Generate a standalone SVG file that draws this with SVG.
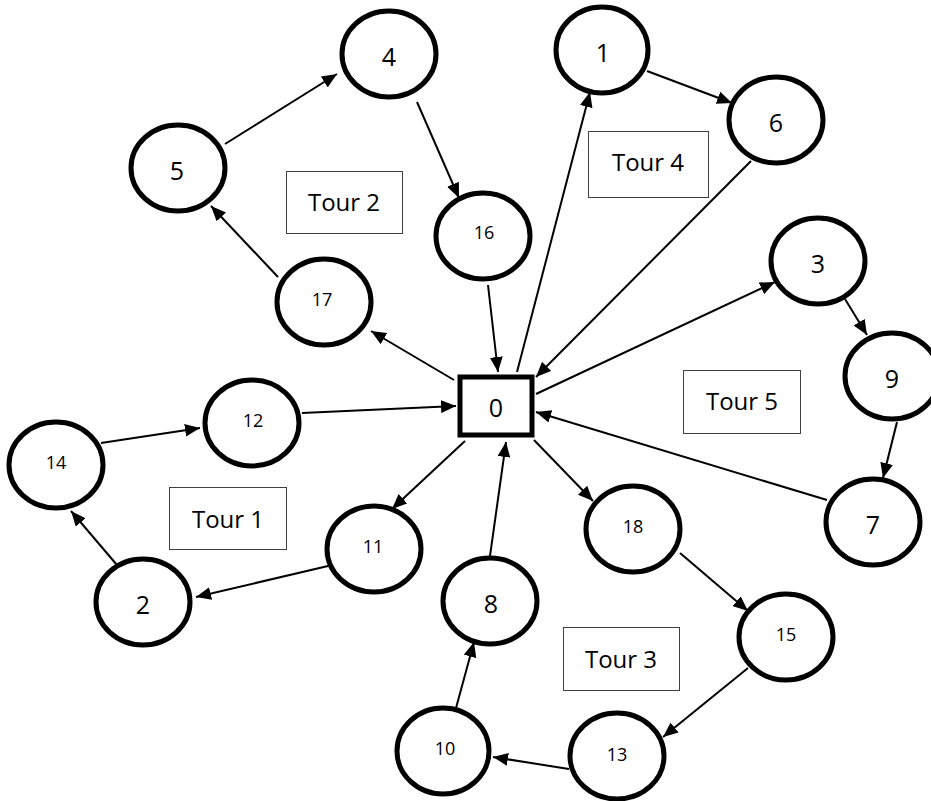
<svg xmlns="http://www.w3.org/2000/svg" width="931" height="801" viewBox="0 0 931 801">
<style>
.n ellipse{fill:#fff;stroke:#000;stroke-width:5}
.n text{font-family:"Open Sans","Liberation Sans",sans-serif;fill:#000;text-anchor:middle;dominant-baseline:central}
.big{font-size:25px}
.sm{font-size:18px}
.tour rect{fill:#fff;stroke:#404040;stroke-width:1}
.tour text{font-family:"Open Sans","Liberation Sans",sans-serif;font-size:24px;fill:#000;text-anchor:middle;dominant-baseline:central}
#edges line{stroke:#000;stroke-width:2;marker-end:url(#ah)}
</style>
<defs>
<marker id="ah" viewBox="0 0 7 6" markerWidth="7.5" markerHeight="6.5" refX="7" refY="3" orient="auto" markerUnits="strokeWidth">
<path d="M0,0 L7,3 L0,6 z" fill="#000"/>
</marker>
</defs>
<rect width="931" height="801" fill="#fff"/>
<g id="edges">
<line x1="465" y1="441" x2="392" y2="509"/>
<line x1="328" y1="566" x2="196" y2="597"/>
<line x1="117" y1="565" x2="71" y2="511"/>
<line x1="101" y1="443" x2="200" y2="428"/>
<line x1="302" y1="413" x2="456" y2="406"/>
<line x1="454" y1="380" x2="371" y2="331"/>
<line x1="278" y1="277" x2="211" y2="206"/>
<line x1="225" y1="144" x2="337" y2="74"/>
<line x1="417" y1="102" x2="459" y2="198"/>
<line x1="488" y1="285" x2="498" y2="372"/>
<line x1="534" y1="440" x2="593" y2="501"/>
<line x1="680" y1="553" x2="748" y2="611"/>
<line x1="748" y1="668" x2="663" y2="737"/>
<line x1="569" y1="769" x2="493" y2="757"/>
<line x1="456" y1="708" x2="474" y2="642"/>
<line x1="490" y1="556" x2="506" y2="442"/>
<line x1="517" y1="372" x2="590" y2="92"/>
<line x1="647" y1="71" x2="732" y2="103"/>
<line x1="751" y1="161" x2="536" y2="377"/>
<line x1="536" y1="394" x2="775" y2="282"/>
<line x1="845" y1="299" x2="867" y2="335"/>
<line x1="897" y1="422" x2="883" y2="478"/>
<line x1="827" y1="500" x2="536" y2="412"/>
</g>
<g id="tour1" class="tour"><rect x="169.5" y="487.5" width="117" height="62"/><text x="228" y="518">Tour 1</text></g>
<g id="tour2" class="tour"><rect x="286.5" y="171.5" width="116" height="62"/><text x="344" y="201">Tour 2</text></g>
<g id="tour3" class="tour"><rect x="563.5" y="627.5" width="116" height="63"/><text x="621" y="658">Tour 3</text></g>
<g id="tour4" class="tour"><rect x="588.5" y="131.5" width="120" height="66"/><text x="648" y="161">Tour 4</text></g>
<g id="tour5" class="tour"><rect x="683.5" y="370.5" width="117" height="63"/><text x="742" y="400">Tour 5</text></g>
<g id="node0" class="n"><rect x="460" y="377" width="72" height="58" fill="#fff" stroke="#000" stroke-width="5"/><text class="big" x="496" y="407">0</text></g>
<g id="node1" class="n"><ellipse cx="602" cy="50" rx="46" ry="43"/><text class="big" x="603" y="52">1</text></g>
<g id="node2" class="n"><ellipse cx="143" cy="602" rx="47" ry="43"/><text class="big" x="143" y="604">2</text></g>
<g id="node3" class="n"><ellipse cx="818" cy="261" rx="47" ry="43"/><text class="big" x="818" y="263">3</text></g>
<g id="node4" class="n"><ellipse cx="389" cy="54" rx="47" ry="43"/><text class="big" x="389" y="56">4</text></g>
<g id="node5" class="n"><ellipse cx="178" cy="168" rx="47" ry="43"/><text class="big" x="177" y="170">5</text></g>
<g id="node6" class="n"><ellipse cx="776" cy="120" rx="47" ry="43"/><text class="big" x="776" y="122">6</text></g>
<g id="node7" class="n"><ellipse cx="873" cy="522" rx="47" ry="43"/><text class="big" x="873" y="524">7</text></g>
<g id="node8" class="n"><ellipse cx="490" cy="601" rx="47" ry="43"/><text class="big" x="491" y="603">8</text></g>
<g id="node9" class="n"><ellipse cx="892" cy="376" rx="47" ry="43"/><text class="big" x="892" y="378">9</text></g>
<g id="node10" class="n"><ellipse cx="443" cy="751" rx="46" ry="43"/><text class="sm" x="445" y="748">10</text></g>
<g id="node11" class="n"><ellipse cx="374" cy="549" rx="47" ry="43"/><text class="sm" x="373" y="546">11</text></g>
<g id="node12" class="n"><ellipse cx="252" cy="423" rx="47" ry="43"/><text class="sm" x="253" y="420">12</text></g>
<g id="node13" class="n"><ellipse cx="617" cy="756" rx="47" ry="43"/><text class="sm" x="617" y="754">13</text></g>
<g id="node14" class="n"><ellipse cx="56" cy="465" rx="47" ry="43"/><text class="sm" x="56" y="462">14</text></g>
<g id="node15" class="n"><ellipse cx="786" cy="637" rx="47" ry="43"/><text class="sm" x="786" y="634">15</text></g>
<g id="node16" class="n"><ellipse cx="483" cy="236" rx="47" ry="43"/><text class="sm" x="484" y="232">16</text></g>
<g id="node17" class="n"><ellipse cx="324" cy="302" rx="47" ry="43"/><text class="sm" x="322" y="299">17</text></g>
<g id="node18" class="n"><ellipse cx="633" cy="529" rx="47" ry="43"/><text class="sm" x="633" y="526">18</text></g>
</svg>
